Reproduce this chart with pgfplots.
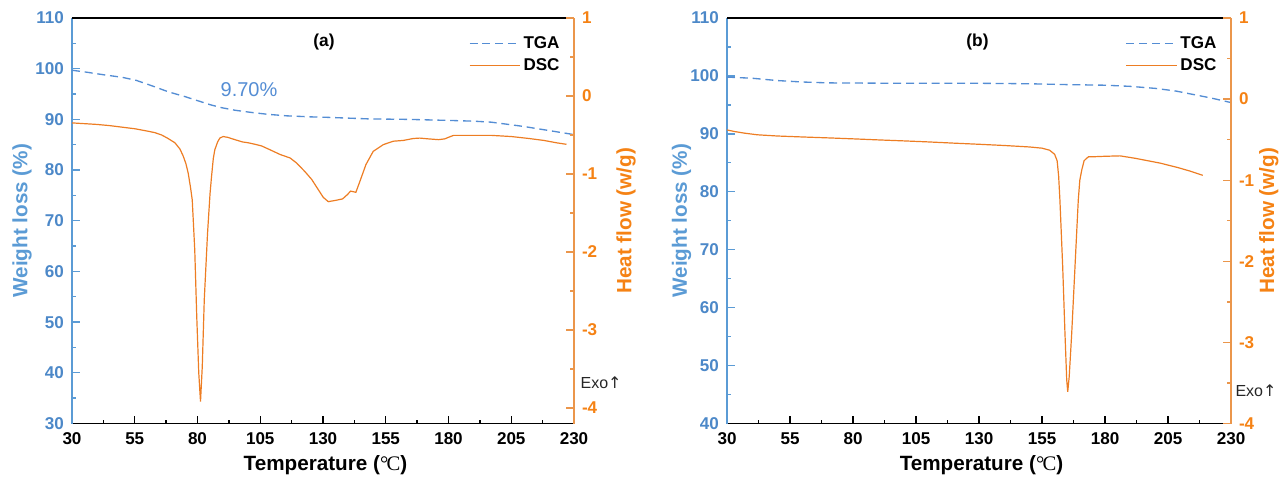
\documentclass[border=0pt]{standalone}
\usepackage{pgfplots}
\pgfplotsset{compat=1.18}
\usepackage{fontspec}
\setmainfont{Liberation Sans}
\newfontfamily\seriffont{Liberation Serif}
\newfontfamily\dejavu{DejaVu Sans}
\definecolor{tgablue}{RGB}{84,141,212}
\definecolor{labblue}{RGB}{91,155,213}
\definecolor{tickblue}{RGB}{76,136,200}
\definecolor{dscorange}{RGB}{237,125,35}
\definecolor{tickorange}{RGB}{245,130,20}
\definecolor{axorange}{RGB}{235,150,75}
\pgfplotsset{
  common/.style={
    anchor=south west, scale only axis, height=304.125pt,
    xmin=30, xmax=230, clip mode=individual,
    tick align=inside, major tick length=6pt, minor tick length=3pt,
    label style={font=\bfseries\fontsize{15.5}{18}\selectfont},
  },
  leftax/.style={
    common,
    axis x line*=bottom, axis y line*=left,
    xtick={30,55,80,105,130,155,180,205,230},
    xticklabels={30,55,80,105,130,155,180,205,230},
    minor x tick num=1,
    minor y tick num=1,
    x axis line style={black,line width=1pt,-},
    y axis line style={labblue,line width=0.9pt,-},
    every x tick/.style={black,line width=1pt},
    every y tick/.style={labblue,line width=1pt},
    every minor x tick/.style={black,line width=1pt},
    every minor y tick/.style={labblue,line width=1pt},
    xticklabel style={font=\bfseries\fontsize{12.8}{15}\selectfont,black,yshift=-3.5pt},
    yticklabel style={font=\bfseries\fontsize{12.8}{15}\selectfont,tickblue,xshift=-2.5pt},
    xlabel={Temperature ({\seriffont\mdseries °\kern-0.08emC})},
    xlabel style={at={(axis description cs:0.505,-0.1023)},anchor=center,black},
    ylabel={Weight loss (\%)},
  },
  rightax/.style={
    common,
    axis x line=none, axis y line*=right,
    ytick={-4,-3,-2,-1,0,1},
    yticklabels={-4,-3,-2,-1,0,1},
    minor y tick num=1,
    y axis line style={axorange,line width=0.9pt,-},
    every y tick/.style={axorange,line width=1pt},
    every minor y tick/.style={axorange,line width=1pt},
    yticklabel style={font=\bfseries\fontsize{12.8}{15}\selectfont,tickorange,xshift=2.5pt},
    ylabel={Heat flow (w/g)},
    legend style={draw=none,fill=none,font=\bfseries\fontsize{12.8}{15}\selectfont,
      anchor=north east,row sep=2.2pt,
      /tikz/every even column/.append style={column sep=2pt}},
    legend cell align=left,
    legend image code/.code={\draw[##1] (0pt,0pt) -- (38pt,0pt);},
  },
  tgaline/.style={tgablue,line width=1pt,dash pattern=on 6pt off 3.6pt},
  dscline/.style={dscorange,line width=0.9pt},
}
\begin{document}
\begin{tikzpicture}
\path[use as bounding box] (0,0) rectangle (963pt,360pt);
% ---------------- panel (a) ----------------
\begin{axis}[leftax, at={(54pt,42.375pt)}, width=376.5pt,
  ymin=30, ymax=110, ytick={30,40,...,110},
  yticklabels={30,40,50,60,70,80,90,100,110},
  ylabel style={at={(axis description cs:-0.0996,0.5)},anchor=center,labblue}]
\addplot[tgaline] coordinates {
(30,99.7) (36,99.3) (42.6,98.8) (50,98.3) (55.6,97.7) (62,96.6) (68.6,95.4)
(75,94.5) (80,93.7) (85,92.9) (89.7,92.3) (95,91.8) (101,91.4) (108,91.0)
(115.6,90.7) (125,90.5) (132,90.4) (148,90.1) (164,90.0) (180,89.8)
(190,89.65) (197,89.45) (204,89.0) (210,88.6) (220,87.8) (230,87.0)};
\draw[black,line width=1pt] (rel axis cs:0,1) -- (rel axis cs:1,1);
\node[font=\bfseries\fontsize{13}{15}\selectfont] at (axis description cs:0.502,0.941) {(a)};
\node[font=\fontsize{15}{17}\selectfont,tgablue] at (axis description cs:0.3526,0.8236) {9.70\%};
\end{axis}
\begin{axis}[rightax, at={(54pt,42.375pt)}, width=376.5pt,
  ymin=-4.2, ymax=1,
  ylabel style={at={(axis description cs:1.1036,0.5)},anchor=center,tickorange},
  legend style={at={(axis description cs:0.985,0.968)}}]
\addlegendimage{tgaline}
\addlegendentry{TGA}
\addplot[dscline] coordinates {
(30,-0.345) (35,-0.355) (40,-0.365) (45,-0.38) (50,-0.40) (55,-0.42) (60,-0.45)
(63,-0.47) (65.7,-0.50) (68,-0.54) (71,-0.60) (73,-0.68) (74.3,-0.77) (75.4,-0.87)
(76.3,-0.99) (77.2,-1.17) (77.9,-1.33) (78.9,-1.97) (79.7,-2.83) (80.5,-3.55)
(81.2,-3.92) (81.9,-3.47) (82.7,-2.61) (84.0,-1.76) (85.0,-1.25) (85.6,-1.03)
(86.3,-0.80) (86.9,-0.69) (88,-0.59) (88.9,-0.54) (90.2,-0.52) (92,-0.53)
(94.9,-0.56) (98,-0.59) (100.2,-0.60) (103,-0.62) (105.5,-0.64) (108.9,-0.69)
(112.9,-0.75) (116.9,-0.795) (119.5,-0.86) (122.8,-0.97) (125.5,-1.07)
(128.1,-1.20) (130.1,-1.30) (132.1,-1.355) (134.8,-1.34) (137.8,-1.32)
(139.7,-1.265) (141,-1.22) (143.1,-1.235) (144.7,-1.095) (147.1,-0.88)
(150,-0.71) (154,-0.624) (158,-0.58) (162,-0.57) (166,-0.545) (168.6,-0.54)
(172,-0.55) (176,-0.56) (178.5,-0.55) (180,-0.53) (182,-0.505) (190,-0.505)
(197,-0.505) (205,-0.52) (212,-0.545) (218,-0.57) (223,-0.60) (227,-0.62)};
\addlegendentry{DSC}
\node[font=\fontsize{12}{14}\selectfont,black!85,anchor=center] at (axis description cs:1.054,0.0999) {Exo{\dejavu ↑}};
\end{axis}
% ---------------- panel (b) ----------------
\begin{axis}[leftax, at={(545.25pt,42.375pt)}, width=378pt,
  ymin=40, ymax=110, ytick={40,50,...,110},
  yticklabels={40,50,60,70,80,90,100,110},
  ylabel style={at={(axis description cs:-0.090,0.5)},anchor=center,labblue}]
\addplot[tgaline] coordinates {
(30,99.8) (40,99.6) (50,99.2) (60,98.95) (70,98.8) (90,98.75) (125,98.75)
(150,98.65) (165,98.5) (180,98.4) (190,98.2) (200,97.85) (208,97.4)
(215,96.8) (222,96.2) (230,95.4)};
\draw[black,line width=1pt] (rel axis cs:0,1) -- (rel axis cs:1,1);
\node[font=\bfseries\fontsize{13}{15}\selectfont] at (axis description cs:0.497,0.941) {(b)};
\end{axis}
\begin{axis}[rightax, at={(545.25pt,42.375pt)}, width=378pt,
  ymin=-4, ymax=1,
  ylabel style={at={(axis description cs:1.075,0.5)},anchor=center,tickorange},
  legend style={at={(axis description cs:0.985,0.968)}}]
\addlegendimage{tgaline}
\addlegendentry{TGA}
\addplot[dscline] coordinates {
(30,-0.38) (33,-0.40) (37,-0.42) (42,-0.44) (50,-0.455) (60,-0.467) (70,-0.478)
(80,-0.49) (90,-0.503) (100,-0.515) (110,-0.528) (120,-0.543) (130,-0.557)
(140,-0.572) (150,-0.59) (155,-0.605) (158,-0.63) (160,-0.68) (161,-0.76)
(161.6,-0.95) (162.1,-1.24) (163.2,-2.06) (164.1,-2.88) (164.8,-3.46)
(165.2,-3.61) (165.8,-3.42) (166.8,-2.88) (168.1,-2.06) (169.4,-1.24)
(170,-1.0) (170.8,-0.87) (171.7,-0.76) (172.7,-0.73) (173.5,-0.71) (176,-0.71)
(180,-0.705) (186,-0.70) (192,-0.73) (202,-0.79) (209,-0.845) (214,-0.89)
(218.8,-0.94)};
\addlegendentry{DSC}
\node[font=\fontsize{12}{14}\selectfont,black!85,anchor=center] at (axis description cs:1.0496,0.080) {Exo{\dejavu ↑}};
\end{axis}
\end{tikzpicture}
\end{document}
